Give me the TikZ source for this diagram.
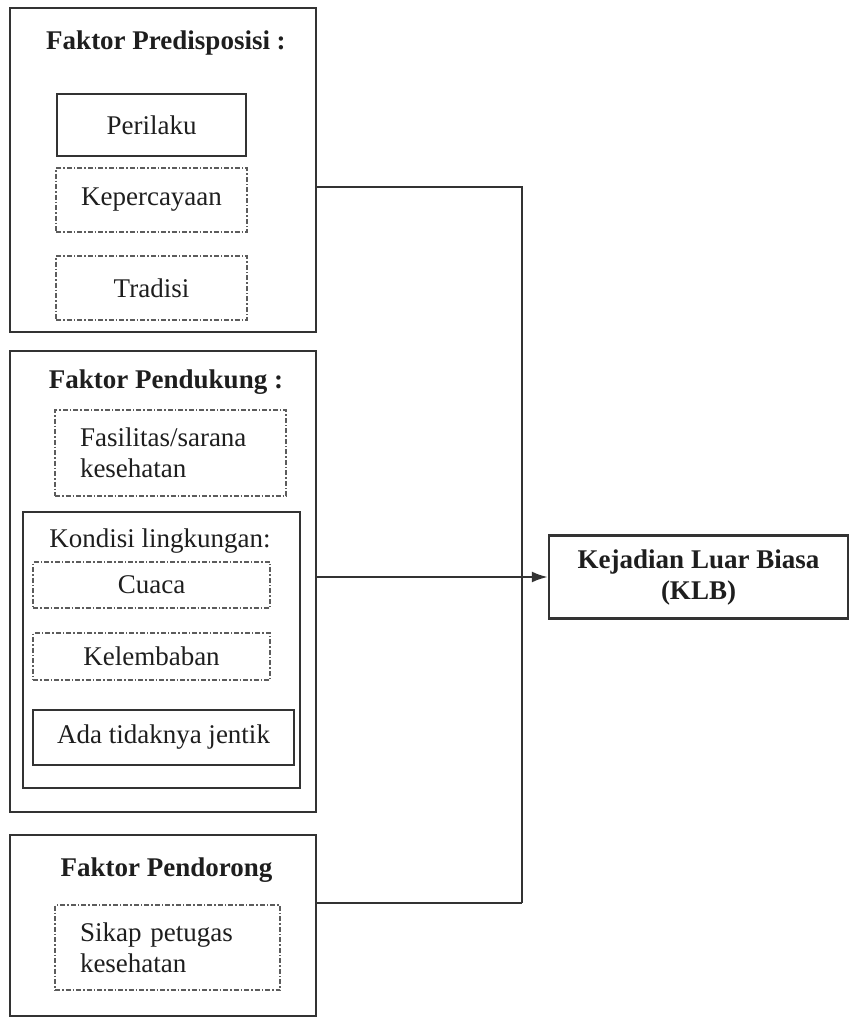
\documentclass[tikz,border=0pt]{standalone}
\usepackage{fontspec}
\setmainfont{Liberation Serif}
\usetikzlibrary{arrows.meta}
\definecolor{ln}{HTML}{333333}
\definecolor{tx}{HTML}{1E1E1E}
\tikzset{
  outerbox/.style={draw=ln, line width=2.8pt, inner sep=0pt, minimum width=306pt},
  solidbox/.style={draw=ln, line width=2.2pt, inner sep=0pt, text=tx, font=\fontsize{27}{31}\selectfont},
  dashbox/.style={draw=ln!80, line width=1.5pt, dash pattern=on 5pt off 2pt on 1.5pt off 2pt, inner sep=0pt, text=tx, font=\fontsize{27}{31}\selectfont},
  title/.style={text=tx, font=\fontsize{27}{31}\selectfont\bfseries, inner sep=0pt},
  plain/.style={text=tx, font=\fontsize{27}{31}\selectfont, inner sep=0pt},
  conn/.style={draw=ln, line width=2.2pt},
}
\begin{document}
\begin{tikzpicture}[x=1pt,y=-1pt]
\useasboundingbox (0,0) rectangle (849,1018);
% Box 1
\node[outerbox, minimum height=324pt] (pre) at (163,170) {};
\node[title] (t1) at (166,43) {Faktor Predisposisi :};
\node[solidbox, minimum width=189pt, minimum height=62pt] (perilaku) at (151.5,125) {Perilaku};
\node[dashbox, minimum width=191pt, minimum height=64pt] (keper) at (151.5,200) {Kepercayaan};
\node[dashbox, minimum width=191pt, minimum height=64pt] (tradisi) at (151.5,288) {Tradisi};
% Box 2
\node[outerbox, minimum height=461pt] (pend) at (163,581.5) {};
\node[title] (t2) at (166,382) {Faktor Pendukung :};
\node[dashbox, text width=181pt, align=left, inner xsep=25pt, minimum height=86pt] (fasil) at (170.5,453) {Fasilitas/sarana\\kesehatan};
\node[draw=ln, line width=2.2pt, inner sep=0pt, minimum width=277pt, minimum height=276pt] (kond) at (161.5,650) {};
\node[plain] (tk) at (160,541) {Kondisi lingkungan:};
\node[dashbox, minimum width=237pt, minimum height=46pt] (cuaca) at (151.5,585) {Cuaca};
\node[dashbox, minimum width=237pt, minimum height=47pt] (lembab) at (151.5,656.5) {Kelembaban};
\node[solidbox, minimum width=261pt, minimum height=55pt] (jentik) at (163.5,737.5) {Ada tidaknya jentik};
% Box 3
\node[outerbox, minimum height=181pt] (dor) at (163,925.5) {};
\node[title] (t3) at (166.5,870) {Faktor Pendorong};
\node[dashbox, text width=175pt, align=left, inner xsep=25pt, minimum height=85pt] (sikap) at (167.5,947.5) {Sikap petugas\\kesehatan};
% KLB
\node[draw=ln, line width=2.4pt, inner sep=0pt, minimum width=299pt, minimum height=83pt, align=center, text=tx, font=\fontsize{27}{31}\selectfont\bfseries] (klb) at (698.5,577) {Kejadian Luar Biasa\\(KLB)};
% connectors
\coordinate (j1) at (522,187);
\coordinate (j3) at (522,903);
\draw[conn] (pre.east |- j1) -- (j1) -- (j3);
\draw[conn] (dor.east |- j3) -- (j3);
\draw[conn, -{Latex[length=16pt,width=11pt]}] (pend.east |- klb.west) -- (klb.west);
\end{tikzpicture}
\end{document}
